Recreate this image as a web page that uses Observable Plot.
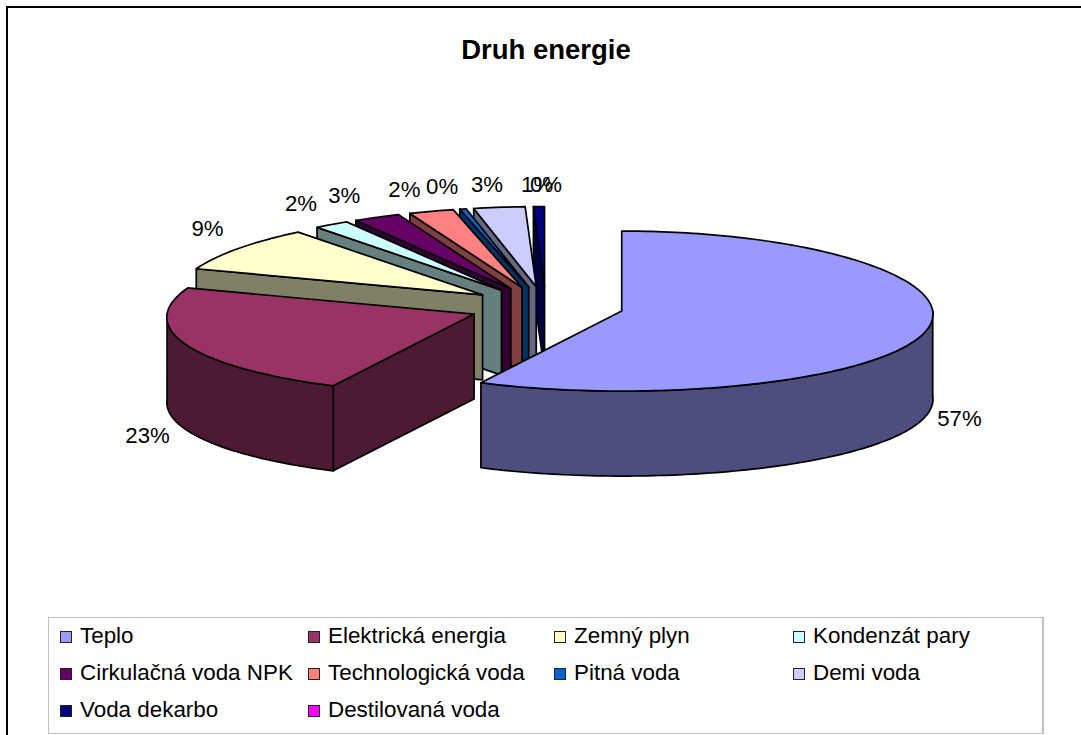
<!DOCTYPE html>
<html lang="sk">
<head>
<meta charset="utf-8">
<script src="https://cdn.jsdelivr.net/npm/d3@7"></script>
<script src="https://cdn.jsdelivr.net/npm/@observablehq/plot@0.6"></script>
<style>
html,body{margin:0;padding:0;background:#fff;width:1081px;height:735px;overflow:hidden;font-family:"Liberation Sans",Arial,sans-serif}
#frame{position:absolute;left:6px;top:6px;width:1075px;height:729px;border-left:2px solid #000;border-top:2px solid #000;box-sizing:border-box}
#chart{position:absolute;left:0;top:0}
#title{position:absolute;left:0;width:1092px;top:36px;text-align:center;font-size:27.5px;font-weight:bold;color:#000;line-height:28px}
#legend{position:absolute;left:48px;top:617px;width:996px;height:117px;box-sizing:border-box;border:1px solid #c0c0c0;border-right-width:2px;background:#fff}
.item{position:absolute;font-size:22.4px;line-height:24px;color:#000;white-space:nowrap}
.sw{position:absolute;left:-20px;top:7px;width:10px;height:10px;border:1.5px solid #222;box-sizing:content-box}
</style>
</head>
<body>
<div id="frame"></div>
<div id="chart"></div>
<div id="title">Druh energie</div>
<div id="legend"></div>
<script>
const categories = ["Teplo","Elektrická energia","Zemný plyn","Kondenzát pary","Cirkulačná voda NPK","Technologická voda","Pitná voda","Demi voda","Voda dekarbo","Destilovaná voda"];
const shares = [57.3, 23.0, 9.05, 1.9, 2.55, 2.45, 0.35, 2.8, 0.6, 0.0];
const topColors = ["#9999FF","#993366","#FFFFCC","#CCFFFF","#660066","#FF8080","#0066CC","#CCCCFF","#000080","#FF00FF"];
const sideColors = ["#4D4D80","#4D1A33","#808066","#668080","#330033","#804040","#003366","#666680","#000040","#800080"];

// geometry of the projected pie, in page pixels
const W = 1081, H = 735;
const center = {x: 545.5, y: 306}, rx = 311, rxLeft = 307, ry = 80, depth = 85, explode = 0.25, perspective = 0.04;

const total = d3.sum(shares);
let running = 0;
const slices = categories.map((name, i) => {
  const a0 = running / total * 2 * Math.PI;
  running += shares[i];
  const a1 = running / total * 2 * Math.PI;
  const mid = (a0 + a1) / 2;
  return {
    name, share: shares[i], a0, a1, mid, i,
    cx: center.x + explode * rx * Math.sin(mid),
    cy: center.y - explode * ry * Math.cos(mid)
  };
});

const rim = (s, a) => {
  const sn = Math.sin(a), cs = Math.cos(a);
  return {x: s.cx + (sn < 0 ? rxLeft : rx) * sn * (1 - perspective * cs), y: s.cy - ry * cs};
};
const arc = (s, a0, a1) => {
  const n = Math.max(1, Math.ceil(Math.abs(a1 - a0) / 0.02));
  return d3.range(n + 1).map(k => rim(s, a0 + (a1 - a0) * k / n));
};
const down = p => ({x: p.x, y: p.y + depth});

const poly = (pts, fill) => Plot.line([...pts, pts[0]], {
  x: "x", y: "y", fill, stroke: "#000", strokeWidth: 1.7, strokeLinejoin: "round", curve: "linear"
});

const marks = [];
// painted back to front: last category first, Teplo last
[...slices].reverse().forEach(s => {
  const side = sideColors[s.i], top = topColors[s.i];
  if (s.a1 - s.a0 <= 0) return;
  const apex = {x: s.cx, y: s.cy};
  // radial cut face on the start edge, seen for slices in the left half
  if (Math.sin(s.a0) < 0) {
    const p = rim(s, s.a0);
    marks.push(poly([apex, p, down(p), down(apex)], side));
  }
  // outer wall on the near half of the ellipse
  const w0 = Math.max(s.a0, Math.PI / 2), w1 = Math.min(s.a1, 3 * Math.PI / 2);
  if (w1 > w0) {
    const edge = arc(s, w0, w1);
    marks.push(poly([...edge, ...edge.map(down).reverse()], side));
  }
  marks.push(poly([apex, ...arc(s, s.a0, s.a1)], top));
});

// percentage labels sit outside the rim; near the top of the ellipse they spread further sideways
const labels = slices.map(s => {
  const sn = Math.sin(s.mid), cs = Math.cos(s.mid);
  const k = cs > 0
    ? Math.max(1.085, 1.07 + 0.2 * Math.max(0, (cs - 0.75) / 0.25))
    : (sn < 0 ? 1.135 : 1.115);
  return {
    text: Math.round(s.share / total * 100) + "%",
    x: s.cx + rx * k * sn,
    y: cs > 0 ? s.cy - (ry + 22) * cs - 16 * (1 - cs) : s.cy - ry * 1.1 * cs + depth + 3
  };
});
marks.push(Plot.text(labels, {
  x: "x", y: "y", text: "text", fontSize: 22.2, fill: "#000",
  fontFamily: "'Liberation Sans',Arial,sans-serif", stroke: "none", textAnchor: "middle"
}));

const chart = Plot.plot({
  width: W, height: H, margin: 0,
  x: {domain: [0, W], axis: null},
  y: {domain: [0, H], range: [0, H], axis: null},
  style: {background: "transparent", overflow: "visible"},
  marks
});
document.getElementById("chart").append(chart);

// legend
const legendColumns = [31, 279, 525, 764];
const legendRows = [6, 43, 80];
const legend = document.getElementById("legend");
categories.forEach((name, i) => {
  const d = document.createElement("div");
  d.className = "item";
  d.style.left = legendColumns[i % 4] + "px";
  d.style.top = legendRows[Math.floor(i / 4)] + "px";
  d.innerHTML = '<span class="sw" style="background:' + topColors[i] + '"></span>' + name;
  legend.append(d);
});
</script>
</body>
</html>
